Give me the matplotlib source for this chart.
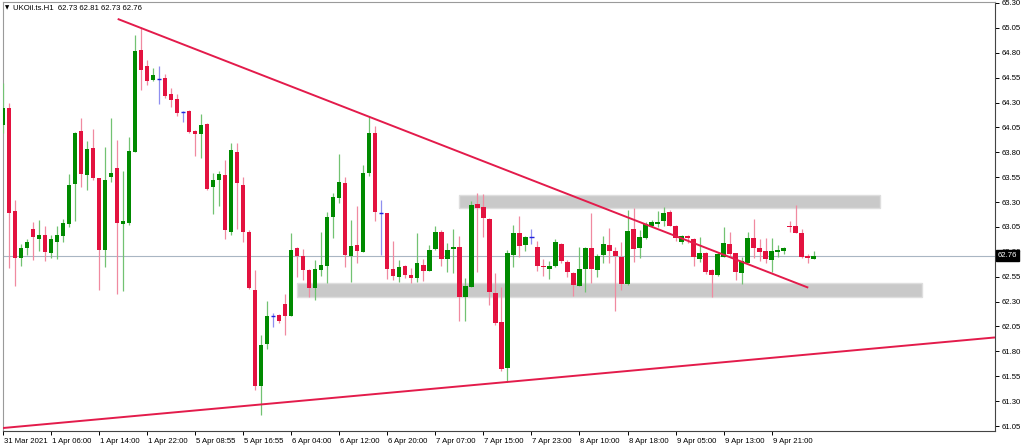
import matplotlib
matplotlib.use("Agg")
import matplotlib.pyplot as plt
import matplotlib.transforms as mtransforms
from matplotlib.patches import Rectangle
import numpy as np

# hourly OHLC bars (oldest first)
opens = [64.07, 64.25, 63.21, 62.74, 62.84, 63.03, 62.93, 62.97, 62.79, 62.90,
         62.96, 63.08, 63.48, 64.01, 63.57, 63.84, 63.54, 62.82, 63.55, 63.64,
         63.08, 63.09, 63.80, 64.83, 64.67, 64.53, 64.54, 64.55, 64.39, 64.34,
         64.20, 64.21, 64.01, 63.98, 64.08, 63.45, 63.52, 63.57, 63.00, 63.80,
         63.47, 63.00, 62.42, 61.45, 61.87, 62.16, 62.17, 62.28, 62.16, 62.84,
         62.76, 62.62, 62.44, 62.62, 62.66, 63.15, 63.34, 63.49, 62.76, 62.87,
         62.80, 63.59, 63.99, 63.19, 63.19, 62.63, 62.55, 62.66, 62.57, 62.54,
         62.67, 62.61, 62.83, 63.00, 62.73, 62.83, 62.85, 62.35, 62.45, 63.28,
         63.25, 63.13, 62.39, 62.10, 61.63, 62.77, 62.99, 62.87, 62.95, 62.85,
         62.66, 62.63, 62.66, 62.88, 62.70, 62.59, 62.46, 62.63, 62.84, 62.62,
         62.77, 62.87, 62.81, 62.75, 62.48, 63.03, 62.84, 62.94, 63.06, 63.08,
         63.11, 63.20, 63.06, 62.90, 62.96, 62.93, 62.73, 62.79, 62.62, 62.57,
         62.75, 62.88, 62.79, 62.59, 62.69, 62.94, 62.84, 62.81, 62.72, 62.80,
         62.81, 63.06, 63.06, 62.99, 62.76, 62.73]
highs = [64.50, 64.30, 63.32, 62.88, 62.93, 63.10, 63.12, 63.06, 62.97, 63.06,
         63.13, 63.58, 64.00, 64.14, 63.91, 64.03, 63.54, 63.85, 64.14, 63.92,
         63.61, 63.95, 64.98, 65.06, 64.73, 64.65, 64.67, 64.59, 64.45, 64.39,
         64.21, 64.22, 64.02, 64.18, 64.09, 63.59, 63.61, 63.72, 63.89, 63.89,
         63.55, 63.02, 62.62, 61.96, 62.31, 62.19, 62.18, 62.38, 62.99, 62.85,
         62.83, 62.63, 62.72, 63.00, 63.20, 63.39, 63.78, 63.55, 63.12, 63.26,
         63.67, 64.16, 64.06, 63.32, 63.19, 62.91, 62.72, 62.67, 62.64, 62.99,
         62.73, 62.87, 63.06, 63.02, 62.89, 63.03, 62.96, 62.54, 63.31, 63.39,
         63.38, 63.14, 62.59, 62.45, 62.82, 63.07, 63.16, 62.96, 63.03, 62.91,
         62.73, 62.71, 62.93, 62.89, 62.72, 62.60, 62.85, 62.85, 63.19, 62.78,
         62.96, 63.04, 62.85, 62.90, 63.22, 63.24, 63.02, 63.10, 63.12, 63.21,
         63.25, 63.22, 63.07, 62.97, 62.97, 62.94, 62.95, 62.80, 62.63, 62.80,
         63.05, 63.00, 62.79, 62.75, 63.00, 63.13, 62.93, 62.94, 62.94, 62.87,
         62.85, 63.11, 63.27, 63.03, 62.78, 62.81]
lows = [63.99, 62.64, 62.46, 62.66, 62.77, 62.72, 62.81, 62.71, 62.74, 62.73,
        62.90, 63.05, 63.11, 63.45, 63.42, 63.52, 62.42, 62.65, 63.50, 62.38,
        62.41, 63.07, 63.80, 64.43, 64.48, 64.52, 64.29, 64.35, 64.26, 64.16,
        64.10, 63.99, 63.76, 63.74, 63.42, 63.18, 63.26, 62.93, 62.97, 63.03,
        62.90, 62.43, 61.41, 61.16, 61.82, 62.04, 62.09, 61.96, 62.16, 62.55,
        62.52, 62.35, 62.32, 62.56, 62.49, 62.94, 63.29, 62.65, 62.50, 62.69,
        62.80, 63.56, 63.11, 62.77, 62.53, 62.52, 62.50, 62.54, 62.49, 62.50,
        62.51, 62.61, 62.82, 62.66, 62.60, 62.59, 62.11, 62.11, 62.45, 62.60,
        62.95, 62.27, 62.06, 61.60, 61.49, 62.65, 62.75, 62.81, 62.88, 62.61,
        62.56, 62.53, 62.65, 62.69, 62.55, 62.36, 62.46, 62.40, 62.49, 62.55,
        62.69, 62.69, 62.21, 62.42, 62.47, 62.70, 62.74, 62.93, 63.05, 63.05,
        63.06, 63.06, 62.91, 62.88, 62.89, 62.66, 62.70, 62.58, 62.35, 62.56,
        62.75, 62.76, 62.52, 62.48, 62.69, 62.74, 62.71, 62.69, 62.60, 62.75,
        62.78, 63.00, 62.99, 62.74, 62.69, 62.73]
closes = [64.25, 63.19, 62.74, 62.84, 62.90, 62.95, 62.97, 62.80, 62.93, 62.97,
          63.09, 63.47, 63.99, 63.58, 63.83, 63.54, 62.82, 63.52, 63.59, 63.09,
          63.11, 63.81, 64.82, 64.63, 64.52, 64.58, 64.54, 64.37, 64.33, 64.19,
          64.20, 64.00, 63.98, 64.07, 63.43, 63.52, 63.58, 63.02, 63.82, 63.49,
          63.00, 62.44, 61.45, 61.86, 62.16, 62.16, 62.11, 62.16, 62.82, 62.76,
          62.62, 62.44, 62.63, 62.67, 63.15, 63.35, 63.50, 62.77, 62.86, 62.81,
          63.59, 63.99, 63.20, 63.19, 62.63, 62.56, 62.65, 62.57, 62.54, 62.69,
          62.61, 62.82, 63.00, 62.73, 62.82, 62.85, 62.35, 62.46, 63.27, 63.24,
          63.14, 62.40, 62.09, 61.62, 62.79, 62.99, 62.86, 62.95, 62.95, 62.66,
          62.65, 62.66, 62.90, 62.71, 62.60, 62.47, 62.63, 62.84, 62.63, 62.76,
          62.88, 62.81, 62.76, 62.48, 63.01, 62.83, 62.95, 63.08, 63.10, 63.10,
          63.19, 63.06, 62.94, 62.96, 62.94, 62.75, 62.79, 62.60, 62.57, 62.78,
          62.89, 62.78, 62.60, 62.71, 62.94, 62.84, 62.80, 62.73, 62.81, 62.82,
          62.84, 63.05, 62.99, 62.75, 62.74, 62.76]

time_labels = ["31 Mar 2021", "1 Apr 06:00", "1 Apr 14:00", "1 Apr 22:00",
               "5 Apr 08:55", "5 Apr 16:55", "6 Apr 04:00", "6 Apr 12:00",
               "6 Apr 20:00", "7 Apr 07:00", "7 Apr 15:00", "7 Apr 23:00",
               "8 Apr 10:00", "8 Apr 18:00", "9 Apr 05:00", "9 Apr 13:00",
               "9 Apr 21:00"]
label_every = 8
price_ticks = [65.30, 65.05, 64.80, 64.55, 64.30, 64.05, 63.80, 63.55, 63.30,
               63.05, 62.80, 62.55, 62.30, 62.05, 61.80, 61.55, 61.30, 61.05]

# zones: (first bar, last bar, low price, high price)
zone_upper = [76.0, 146.0, 63.24, 63.37]
zone_lower = [49.0, 153.0, 62.35, 62.49]
# trend lines: bar positions and prices of the two ends
falling_x = [19.1, 134.1]
falling_p = [65.14, 62.44]
rising_x = [0.0, 165.2]
rising_p = [61.03, 61.94]

symbol = "UKOil.ts.H1"

plt.rcParams['font.family'] = ['Liberation Sans', 'DejaVu Sans']
fs = 5.6

fig = plt.figure(figsize=(10.24, 4.47), dpi=100)
ax = fig.add_axes([3 / 1024, 16 / 447, 992 / 1024, 429 / 447])

o = np.array(opens)
h = np.array(highs)
l = np.array(lows)
c = np.array(closes)
x = np.arange(len(o))

up = c > o
down = c < o
flat = c == o

body_col = np.where(up, "#008a00", np.where(down, "#e3123f", "#2222dd"))
wick_col = np.where(up, "#72c272", np.where(down, "#f08aa0", "#8f8fef"))

ax.vlines(x, l, h, colors=wick_col, lw=0.9, zorder=3)
heights = np.maximum(np.abs(c - o), 0.012)
ax.bar(x[~flat], heights[~flat], bottom=np.minimum(o, c)[~flat], width=0.72,
       color=body_col[~flat], edgecolor="none", zorder=4)
ax.hlines(o[flat], x[flat] - 0.36, x[flat] + 0.36, colors="#2222dd", lw=1.0, zorder=4)

for z in (zone_upper, zone_lower):
    ax.add_patch(Rectangle((z[0], z[2]), z[1] - z[0], z[3] - z[2],
                           facecolor="#c9c9c9", edgecolor="#dedede", lw=1, zorder=1))

ax.axhline(c[-1], color="#a9b6c3", lw=0.8, zorder=2)

ax.plot(falling_x, falling_p, color="#e31b4b", lw=1.4, zorder=5, solid_capstyle="butt")
ax.plot(rising_x, rising_p, color="#e31b4b", lw=1.4, zorder=5, solid_capstyle="butt")

ax.set_xlim(0.12, 165.2)
ax.set_ylim(61.00, 65.31)

ax.yaxis.tick_right()
ax.set_yticks(price_ticks)
ax.set_yticklabels([f"{p:.2f}" for p in price_ticks], fontsize=fs)
ax.tick_params(axis="y", direction="out", length=3, width=0.7, pad=1.5, colors="black")

ax.set_xticks(np.arange(len(time_labels)) * label_every)
ax.set_xticklabels(time_labels, fontsize=fs, ha="left")
ax.tick_params(axis="x", direction="out", length=3, width=0.7, pad=2, colors="black")
shift = mtransforms.ScaledTranslation(1 / 100, 0, fig.dpi_scale_trans)
for lab in ax.get_xticklabels():
    lab.set_transform(lab.get_transform() + shift)

for side in ("left", "top"):
    ax.spines[side].set_color("#9a9a9a")
for side in ("right", "bottom"):
    ax.spines[side].set_color("#444444")
for s in ax.spines.values():
    s.set_linewidth(0.8)

# current price marker on the price scale
trans = mtransforms.blended_transform_factory(ax.transAxes, ax.transData)
tag_shift = mtransforms.ScaledTranslation(2.5 / 100, 0, fig.dpi_scale_trans)
ax.text(1.0, c[-1], f"{c[-1]:.2f}", transform=trans + tag_shift, fontsize=fs,
        color="white", ha="left", va="center", zorder=10, clip_on=False,
        bbox=dict(boxstyle="square,pad=0.25", fc="black", ec="black"))

fig.text(5 / 1024, 1 - 8 / 447, "\u25bc", fontsize=4, va="center", ha="left",
         family="DejaVu Sans")
fig.text(13 / 1024, 1 - 8 / 447,
         f"{symbol}  {o[-1]:.2f} {h[-1]:.2f} {l[-1]:.2f} {c[-1]:.2f}",
         fontsize=fs, va="center", ha="left")

fig.savefig("out.png", dpi=100, facecolor="white")
